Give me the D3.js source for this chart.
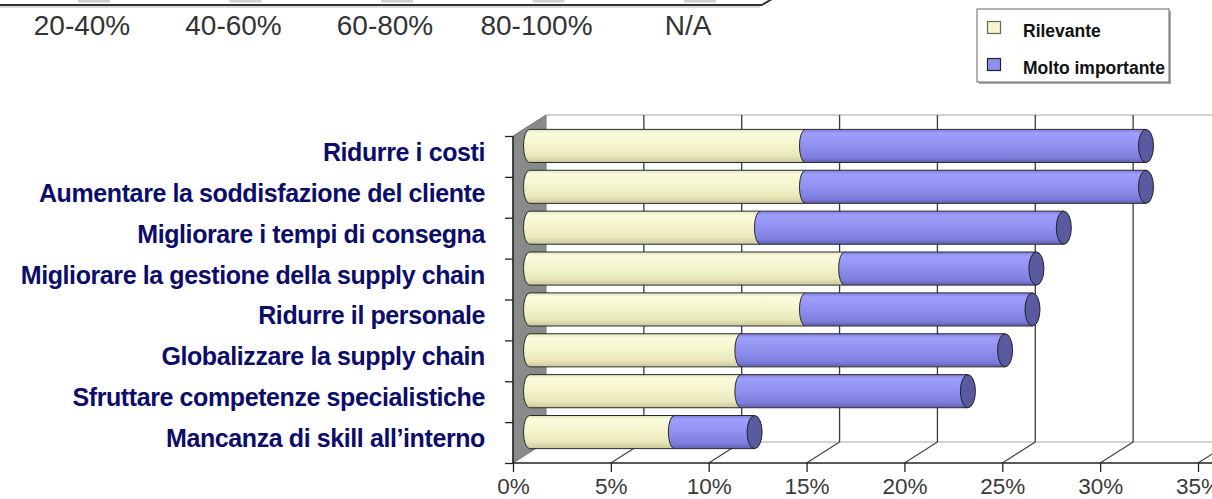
<!DOCTYPE html>
<html>
<head>
<meta charset="utf-8">
<script src="https://cdn.jsdelivr.net/npm/d3@7/dist/d3.min.js"></script>
<style>
  body { margin: 0; background: #fff; }
  svg { display: block; font-family: "Liberation Sans", Arial, sans-serif; }
</style>
</head>
<body>
<svg id="chart" width="1212" height="499"></svg>
<script>
// labels of the chart cut off above
var topLabels = ["20-40%", "40-60%", "60-80%", "80-100%", "N/A"];

var categories = [
  "Ridurre i costi",
  "Aumentare la soddisfazione del cliente",
  "Migliorare i tempi di consegna",
  "Migliorare la gestione della supply chain",
  "Ridurre il personale",
  "Globalizzare la supply chain",
  "Sfruttare competenze specialistiche",
  "Mancanza di skill all\u2019interno"
];
var seriesNames = ["Rilevante", "Molto importante"];
var rilevante = [14.1, 14.1, 11.8, 16.1, 14.1, 10.8, 10.8, 7.4];
var moltoImportante = [17.4, 17.4, 15.5, 9.8, 11.6, 13.5, 11.6, 4.1];
var xTicks = [0, 5, 10, 15, 20, 25, 30, 35];

var svg = d3.select("#chart");
var defs = svg.append("defs");

function gradient(id, stops) {
  var g = defs.append("linearGradient").attr("id", id)
    .attr("x1", 0).attr("y1", 0).attr("x2", 0).attr("y2", 1);
  stops.forEach(function(s) {
    g.append("stop").attr("offset", s[0]).attr("stop-color", s[1]);
  });
}
gradient("gYellow", [[0, "#e4e4bc"], [0.12, "#fbfbde"], [0.45, "#f5f5cd"], [0.8, "#e8e8bb"], [1, "#c8c89c"]]);
gradient("gBlue", [[0, "#7c7cdc"], [0.12, "#9e9efb"], [0.5, "#9090f0"], [0.85, "#7d7ddc"], [1, "#6060b4"]]);

// ---- remnant of the previous chart at the top
svg.append("line").attr("x1", 0).attr("x2", 762).attr("y1", 5).attr("y2", 5)
  .attr("stroke", "#333").attr("stroke-width", 2);
svg.append("line").attr("x1", 0).attr("x2", 760).attr("y1", 7).attr("y2", 7)
  .attr("stroke", "#bbb").attr("stroke-width", 1);
svg.append("line").attr("x1", 762).attr("x2", 772).attr("y1", 5).attr("y2", -1)
  .attr("stroke", "#333").attr("stroke-width", 2);

var xTop = d3.scalePoint().domain(topLabels).range([82, 688]);
svg.append("g").selectAll("rect").data(topLabels).join("rect")
  .attr("x", function(d) { return xTop(d) - 4; })
  .attr("y", 0).attr("width", 32).attr("height", 2.5)
  .attr("fill", "#d0d0d0");
svg.append("g").selectAll("text").data(topLabels).join("text")
  .attr("x", function(d) { return xTop(d); })
  .attr("y", 35)
  .attr("text-anchor", "middle")
  .attr("font-size", 28)
  .attr("fill", "#333")
  .text(function(d) { return d; });

// ---- legend
var lg = svg.append("g");
lg.append("rect").attr("x", 979).attr("y", 11).attr("width", 192).attr("height", 73).attr("fill", "#aaa");
lg.append("rect").attr("x", 977).attr("y", 9).attr("width", 192).attr("height", 73)
  .attr("fill", "#fff").attr("stroke", "#666").attr("stroke-width", 1);
var legendColors = ["#f6f6c8", "#8f8ff0"];
seriesNames.forEach(function(name, i) {
  var yy = 21 + i * 37;
  lg.append("rect").attr("x", 987.5).attr("y", yy + 0.5).attr("width", 13).attr("height", 12)
    .attr("fill", legendColors[i]).attr("stroke", i ? "#222" : "#666").attr("stroke-width", 1.2);
  lg.append("text").attr("x", 1023).attr("y", yy + 16)
    .attr("font-size", 17.5).attr("font-weight", "bold").attr("fill", "#111")
    .text(name);
});

// ---- 3D frame
var depthX = 33, depthY = -21;
var x = d3.scaleLinear().domain([0, 35]).range([513, 1198]);
var y = d3.scaleBand().domain(categories).range([136, 463])
  .paddingInner(0.19).paddingOuter(0.095);
var yIdx = d3.scaleLinear().domain([0, categories.length]).range([136, 463]);

var yTop = yIdx(0), yBot = yIdx(categories.length);

// back wall
svg.append("rect").attr("x", x(0) + depthX).attr("y", yTop + depthY)
  .attr("width", 1300).attr("height", yBot - yTop).attr("fill", "#fff");
svg.append("line").attr("x1", x(0) + depthX).attr("x2", 1212)
  .attr("y1", yTop + depthY).attr("y2", yTop + depthY).attr("stroke", "#c4c4c4").attr("stroke-width", 1.5);
svg.append("line").attr("x1", x(0) + depthX).attr("x2", 1212)
  .attr("y1", yBot + depthY).attr("y2", yBot + depthY).attr("stroke", "#c4c4c4").attr("stroke-width", 1.5);

// gridlines on back wall and floor
var grid = svg.append("g");
grid.selectAll(".gv").data(xTicks.slice(1)).join("line")
  .attr("x1", function(d) { return x(d) + depthX; })
  .attr("x2", function(d) { return x(d) + depthX; })
  .attr("y1", yTop + depthY).attr("y2", yBot + depthY)
  .attr("stroke", "#3a3a3a").attr("stroke-width", 1.3);
grid.selectAll(".gd").data(xTicks.slice(1)).join("line")
  .attr("x1", function(d) { return x(d); })
  .attr("x2", function(d) { return x(d) + depthX; })
  .attr("y1", yBot).attr("y2", yBot + depthY)
  .attr("stroke", "#444").attr("stroke-width", 1.2);

// left wall
svg.append("polygon")
  .attr("points", [
    [x(0), yTop], [x(0) + depthX, yTop + depthY],
    [x(0) + depthX, yBot + depthY], [x(0), yBot]
  ].map(function(p) { return p.join(","); }).join(" "))
  .attr("fill", "#8a8a8a").attr("stroke", "#777").attr("stroke-width", 1);

// ---- bars (cylinders)
var rows = categories.map(function(c, i) {
  return { cat: c, rilevante: rilevante[i], molto: moltoImportante[i] };
});
var stacked = d3.stack().keys(["rilevante", "molto"])(rows);
var barH = y.bandwidth();
var rx = 6;
var fills = ["url(#gYellow)", "url(#gBlue)"];

function bodyPath(x0, x1, top, h) {
  return "M" + x0 + "," + top + "H" + x1 + "V" + (top + h) + "H" + x0 +
    "A" + rx + "," + (h / 2) + " 0 0 1 " + x0 + "," + top + "Z";
}

var bars = svg.append("g").attr("transform", "translate(" + depthX / 2 + "," + depthY / 2 + ")");
stacked.forEach(function(layer, li) {
  bars.append("g").selectAll("path").data(layer).join("path")
    .attr("d", function(d) {
      return bodyPath(x(d[0]), x(d[1]), y(d.data.cat), barH);
    })
    .attr("fill", fills[li])
    .attr("stroke", "#2a2a2a").attr("stroke-width", 1);
});
bars.append("g").selectAll("ellipse").data(stacked[1]).join("ellipse")
  .attr("cx", function(d) { return x(d[1]); })
  .attr("cy", function(d) { return y(d.data.cat) + barH / 2; })
  .attr("rx", 7.5).attr("ry", barH / 2)
  .attr("fill", "#5a5aa0").attr("stroke", "#222").attr("stroke-width", 1);

// ---- axes
var xAxis = svg.append("g").attr("transform", "translate(0," + yBot + ")")
  .call(d3.axisBottom(x).tickValues(xTicks).tickSize(9).tickPadding(6)
    .tickFormat(function(d) { return d + "%"; }));
xAxis.select(".domain").attr("d", "M" + x(0) + ",0H1212").attr("stroke", "#222").attr("stroke-width", 1.5);
xAxis.selectAll(".tick line").attr("stroke", "#222").attr("stroke-width", 1.3);
xAxis.selectAll(".tick text").attr("font-size", 22.5).attr("fill", "#3a3a3a")
  .attr("font-family", "'Liberation Sans', Arial, sans-serif");

var yAxis = svg.append("g").attr("transform", "translate(" + x(0) + ",0)")
  .call(d3.axisLeft(yIdx).ticks(categories.length).tickSize(8).tickFormat(""));
yAxis.select(".domain").attr("d", "M0," + yTop + "V" + yBot).attr("stroke", "#222").attr("stroke-width", 1.5);
yAxis.selectAll(".tick line").attr("stroke", "#222").attr("stroke-width", 1.3);

// category labels
svg.append("g").selectAll("text").data(categories).join("text")
  .attr("x", 485)
  .attr("y", function(d) { return y(d) + barH / 2 + 4.5; })
  .attr("text-anchor", "end")
  .attr("font-size", 25)
  .attr("font-weight", "bold")
  .attr("letter-spacing", -0.4)
  .attr("fill", "#0c0c6a")
  .text(function(d) { return d; });
</script>
</body>
</html>
